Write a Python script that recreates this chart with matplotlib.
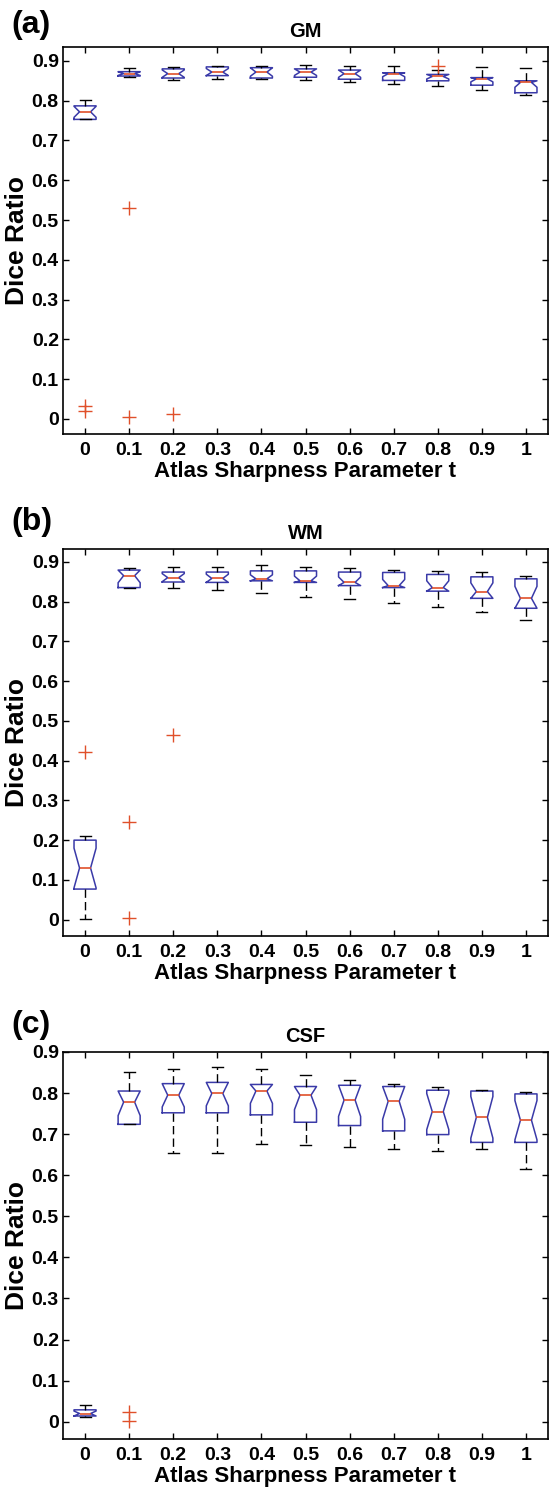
import numpy as np
import matplotlib
matplotlib.use("Agg")
import matplotlib.pyplot as plt

plt.rcParams['font.family'] = ['Liberation Sans', 'DejaVu Sans']

t_labels = ['0', '0.1', '0.2', '0.3', '0.4', '0.5', '0.6', '0.7', '0.8', '0.9', '1']
t_values = [0.0, 0.1, 0.2, 0.3, 0.4, 0.5, 0.6, 0.7, 0.8, 0.9, 1.0]

# GM
gm_q1 = [0.753, 0.862, 0.857, 0.863, 0.857, 0.859, 0.854, 0.851, 0.850, 0.839, 0.820]
gm_med = [0.772, 0.868, 0.868, 0.872, 0.872, 0.872, 0.868, 0.868, 0.861, 0.855, 0.846]
gm_q3 = [0.787, 0.873, 0.880, 0.885, 0.883, 0.880, 0.877, 0.870, 0.866, 0.858, 0.850]
gm_lo = [0.753, 0.860, 0.853, 0.854, 0.854, 0.851, 0.847, 0.843, 0.837, 0.827, 0.814]
gm_hi = [0.801, 0.882, 0.885, 0.886, 0.888, 0.891, 0.887, 0.887, 0.878, 0.885, 0.882]
gm_out = [[0.019, 0.033], [0.53, 0.005], [0.012], [], [], [], [], [], [0.886], [], []]

# WM
wm_q1 = [0.077, 0.835, 0.849, 0.848, 0.852, 0.848, 0.840, 0.835, 0.826, 0.808, 0.783]
wm_med = [0.130, 0.865, 0.860, 0.858, 0.857, 0.852, 0.848, 0.840, 0.835, 0.825, 0.808]
wm_q3 = [0.200, 0.879, 0.874, 0.874, 0.877, 0.877, 0.874, 0.873, 0.868, 0.862, 0.857]
wm_lo = [0.002, 0.835, 0.835, 0.829, 0.821, 0.811, 0.806, 0.796, 0.786, 0.773, 0.754]
wm_hi = [0.210, 0.883, 0.887, 0.887, 0.892, 0.887, 0.883, 0.880, 0.877, 0.874, 0.865]
wm_out = [[0.422], [0.245, 0.005], [0.465], [], [], [], [], [], [], [], []]

# CSF
csf_q1 = [0.014, 0.724, 0.752, 0.752, 0.747, 0.729, 0.721, 0.708, 0.699, 0.680, 0.680]
csf_med = [0.020, 0.778, 0.795, 0.799, 0.805, 0.795, 0.783, 0.780, 0.755, 0.741, 0.734]
csf_q3 = [0.029, 0.805, 0.823, 0.826, 0.821, 0.816, 0.819, 0.816, 0.807, 0.805, 0.798]
csf_lo = [0.011, 0.724, 0.653, 0.655, 0.677, 0.673, 0.668, 0.664, 0.660, 0.663, 0.615]
csf_hi = [0.041, 0.852, 0.859, 0.863, 0.859, 0.843, 0.831, 0.821, 0.816, 0.808, 0.803]
csf_out = [[], [0.024, 0.001], [], [], [], [], [], [], [], [], []]

N_SUBJ = 15  # subjects per box, used for the notch half-width 1.57*IQR/sqrt(N)

panels = [
    ('(a)', 'GM', gm_q1, gm_med, gm_q3, gm_lo, gm_hi, gm_out, (-0.038, 0.935)),
    ('(b)', 'WM', wm_q1, wm_med, wm_q3, wm_lo, wm_hi, wm_out, (-0.041, 0.932)),
    ('(c)', 'CSF', csf_q1, csf_med, csf_q3, csf_lo, csf_hi, csf_out, (-0.042, 0.900)),
]

W, H = 550, 1490
fig = plt.figure(figsize=(W / 100, H / 100), dpi=100)

axes_px = [(47, 434), (549, 936), (1052, 1439)]
label_y = [25, 522, 1025]
left_px, right_px = 63, 548

blue = '#3a3aa8'
red = '#e0502a'

for (lab, title, q1, med, q3, lo, hi, out, ylim), (top, bot), ly in zip(panels, axes_px, label_y):
    ax = fig.add_axes([left_px / W, 1 - bot / H, (right_px - left_px) / W, (bot - top) / H])
    stats = []
    for i in range(len(t_values)):
        iqr = q3[i] - q1[i]
        half = 1.57 * iqr / np.sqrt(N_SUBJ)
        stats.append(dict(med=med[i], q1=q1[i], q3=q3[i], whislo=lo[i], whishi=hi[i],
                          fliers=out[i],
                          cilo=max(med[i] - half, q1[i]),
                          cihi=min(med[i] + half, q3[i])))
    ax.bxp(stats, positions=t_values, widths=0.05, shownotches=True,
           boxprops=dict(color=blue, linewidth=1.1),
           medianprops=dict(color=red, linewidth=1.2),
           whiskerprops=dict(color='black', linewidth=1.0, linestyle=(0, (6, 3))),
           capprops=dict(color='black', linewidth=1.0),
           flierprops=dict(marker='+', markeredgecolor=red, markersize=10, markeredgewidth=1.0,
                           linestyle='none'),
           manage_ticks=False)
    ax.set_xlim(-0.05, 1.05)
    ax.set_ylim(*ylim)
    ax.set_xticks(t_values)
    ax.set_xticklabels(t_labels)
    yt = [0.0, 0.1, 0.2, 0.3, 0.4, 0.5, 0.6, 0.7, 0.8, 0.9]
    ax.set_yticks(yt)
    ax.set_yticklabels(['0'] + ['%.1f' % v for v in yt[1:]])
    ax.tick_params(direction='in', top=True, right=True, length=4, width=1,
                   labelsize=14)
    ax.tick_params(axis='x', pad=6)
    ax.tick_params(axis='y', pad=3)
    for tl in ax.get_xticklabels() + ax.get_yticklabels():
        tl.set_fontweight('bold')
    for s in ax.spines.values():
        s.set_linewidth(1.2)
    ax.set_title(title, fontsize=14.5, fontweight='bold', pad=7)
    ax.set_ylabel('Dice Ratio', fontsize=19, fontweight='bold', labelpad=2)
    ax.set_xlabel('Atlas Sharpness Parameter t', fontsize=16, fontweight='bold', labelpad=1)
    fig.text(11 / W, 1 - ly / H, lab, fontsize=23, fontweight='bold',
             ha='left', va='center')

fig.savefig('out.png', dpi=100)
